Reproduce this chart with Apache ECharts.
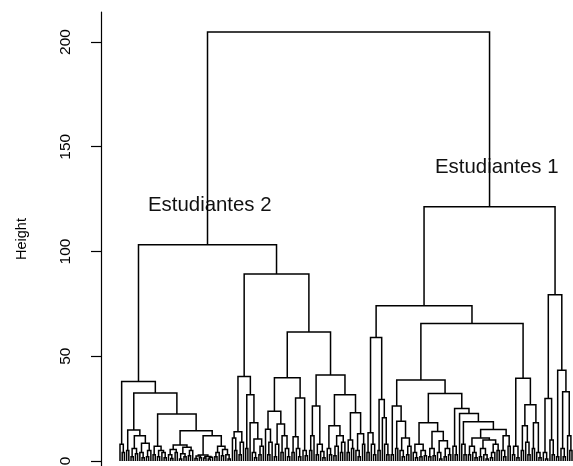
<!DOCTYPE html>
<html>
<head>
    <meta charset="utf-8">
    <title>Dendrograma</title>
    <script src="https://cdn.jsdelivr.net/npm/echarts@6/dist/echarts.min.js"></script>
    <style>
        html, body { margin: 0; padding: 0; background: #fff; }
        #chart { width: 573px; height: 466px; }
    </style>
</head>
<body>
<div id="chart"></div>
<script>
    // alturas de fusion: [raiz, Estudiantes 2, Estudiantes 1]
    var topHeights = [204.8, 103.2, 121.4];
    // sub-arboles: [altura, izquierda, derecha]; 0 = hoja
    var groupA1 = [38,
        [8, 0, [4, 0, 0]],
        [32.4,
            [14.8, [5, 0, 0], [12, [6, [2, 0, 0], [3.5, 0, 0]], [8.5, [4, 0, [1.5, 0, 0]], [5, [2, 0, 0], 0]]]],
            [22.4,
                [7, [3, 0, 0], [5, [2, 0, 0], [4, 0, [1.5, 0, 0]]]],
                [14.4,
                    [7.6, [5.5, [3, 0, [1.2, 0, 0]], [4, 0, 0]], [6.5, [3.5, [1, 0, 0], [2, 0, 0]], [5, [2.5, 0, 0], 0]]],
                    [12,
                        [2.9, [2.4, [1.2, 0, 0], [1.6, 0, 0]], [2.1, [1.4, 0, 0], [1.8, [0.9, 0, 0], 0]]],
                        [7, [4, [2, 0, 0], 0], [5.5, [2.5, 0, 0], [3, 0, [1, 0, 0]]]]
                    ]
                ]
            ]
        ]
    ];
    var groupA2 = [89.2,
        [40.3,
            [14, [11, 0, [5, 0, 0]], [9, [3, 0, 0], 0]],
            [31.6, [6, 0, 0], [18.3, 0, [10.5, [4, 0, [1.5, 0, 0]], [7, [3, 0, 0], 0]]]]
        ],
        [61.6,
            [39.7,
                [23.8,
                    [15.2, 0, [9, [3, 0, 0], 0]],
                    [17.6, [8, [2, 0, 0], 0], [12, [4, 0, 0], [6, 0, [2, 0, 0]]]]
                ],
                [30.1, [11.6, [4, 0, 0], [6, 0, [2, 0, 0]]], [5, 0, [2.5, 0, 0]]]
            ],
            [41.1,
                [26.3, [12, [5, 0, 0], 0], [8, [3, 0, 0], [4.5, 0, [1.5, 0, 0]]]],
                [31.6,
                    [16.8, [6, 0, [3, 0, 0]], [12, [7, [2.5, 0, 0], 0], [9, [4, 0, 0], 0]]],
                    [23, [10, [4, 0, 0], [6, 0, 0]], [13, [5, 0, [2, 0, 0]], [8, 0, 0]]]
                ]
            ]
        ]
    ];
    var groupB1low = [15,
        [11, [7, [3, 0, 0], [4, 0, [1.5, 0, 0]]], [10, [6, [2, 0, 0], [3, 0, [1, 0, 0]]], [8, [4, [1.5, 0, 0], 0], [5, 0, 0]]]],
        [12, [5, 0, [2, 0, 0]], [7, 0, 0]]
    ];
    var groupB1 = [74.1,
        [59,
            [13.5, [4, 0, 0], [8, 0, [3, 0, 0]]],
            [29.4, [5, 0, 0], [20.6, 0, [8, 0, [3, 0, 0]]]]
        ],
        [65.6,
            [38.7,
                [26.2, [3, 0, 0], [19, [6, 0, 0], [11, [5, 0, [2, 0, 0]], [7, [3, 0, 0], 0]]]],
                [32.2,
                    [18.3,
                        [8, [4, 0, [1.5, 0, 0]], [5, [2, 0, 0], [2.5, 0, 0]]],
                        [14.1, [6, [2, 0, 0], [2.5, 0, 0]], [9.7, [4, 0, [1, 0, 0]], [6, [2, 0, 0], [3, 0, 0]]]]
                    ],
                    [25.1, [7, 0, [3, 0, 0]], [22.7, 0, [18.7, [8, 0, [3, 0, 0]], groupB1low]]]
                ]
            ],
            [39.5, [7, [3, 0, 0], [1.5, 0, 0]], [26.8, [16.8, [5, 0, 0], [9, 0, [3, 0, 0]]], [18.3, [6, 0, 0], [4, 0, [1.5, 0, 0]]]]]
        ]
    ];
    var groupB2 = [79.4,
        [29.8, [4, 0, [1, 0, 0]], [10, 0, [3, 0, 0]]],
        [43.3, [2, 0, 0], [33, [6, 0, [2, 0, 0]], [12, 0, [5, 0, 0]]]]
    ];
    var tickValues = [0, 50, 100, 150, 200];

    var tree = [topHeights[0], [topHeights[1], groupA1, groupA2], [topHeights[2], groupB1, groupB2]];

    // recorrido: hojas en orden, nodo en el punto medio de sus hijos
    var segments = [];
    var leafCount = 0;
    function layout(node) {
        if (!Array.isArray(node)) {
            return { x: leafCount++, h: 0 };
        }
        var l = layout(node[1]);
        var r = layout(node[2]);
        segments.push([l.x, l.h, r.x, r.h, node[0]]);
        return { x: (l.x + r.x) / 2, h: node[0] };
    }
    layout(tree);

    var pxPerLeaf = 452 / (leafCount - 1);

    var myChart = echarts.init(document.getElementById('chart'));
    myChart.setOption({
        animation: false,
        grid: { left: 101, top: 12, right: 0, bottom: 0, outerBoundsMode: 'none', containLabel: false },
        xAxis: {
            type: 'value',
            show: false,
            min: -19 / pxPerLeaf,
            max: (leafCount - 1) + 1 / pxPerLeaf
        },
        yAxis: {
            type: 'value',
            min: -2.39,
            max: 214.3,
            name: 'Height',
            nameLocation: 'middle',
            nameGap: 72,
            nameTextStyle: { color: '#000', fontSize: 14.5, fontFamily: 'Liberation Sans' },
            axisLine: { show: true, onZero: false, lineStyle: { color: '#000', width: 1.2 } },
            axisTick: { show: true, length: 10, customValues: tickValues, lineStyle: { color: '#000', width: 1.2 } },
            axisLabel: {
                customValues: tickValues,
                rotate: 90,
                margin: 27,
                color: '#000',
                fontSize: 15.5,
                fontFamily: 'Liberation Sans'
            },
            splitLine: { show: false }
        },
        graphic: [
            { type: 'text', left: 148, top: 195, style: { text: 'Estudiantes 2', fill: '#111', fontSize: 20.4, fontFamily: 'Liberation Sans' } },
            { type: 'text', left: 435, top: 157, style: { text: 'Estudiantes 1', fill: '#111', fontSize: 20.4, fontFamily: 'Liberation Sans' } }
        ],
        series: [{
            type: 'custom',
            data: segments,
            silent: true,
            encode: { x: [0, 2], y: [1, 3, 4] },
            renderItem: function (params, api) {
                var p1 = api.coord([api.value(0), api.value(1)]);
                var p2 = api.coord([api.value(0), api.value(4)]);
                var p3 = api.coord([api.value(2), api.value(4)]);
                var p4 = api.coord([api.value(2), api.value(3)]);
                return {
                    type: 'polyline',
                    shape: { points: [p1, p2, p3, p4] },
                    style: { stroke: '#000', lineWidth: 1.5, fill: null }
                };
            }
        }]
    });
</script>
</body>
</html>
